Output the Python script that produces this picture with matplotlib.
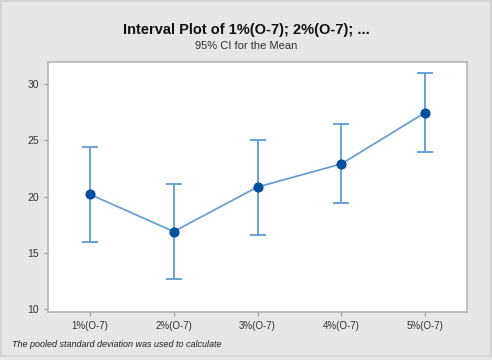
"""
Interval plot of the mean with 95% confidence intervals, Minitab style.
"""

import matplotlib
matplotlib.use("Agg")
import matplotlib.pyplot as plt
from matplotlib.patches import Rectangle

plt.rcParams["font.family"] = ["Liberation Sans", "DejaVu Sans"]

categories = ["1%(O-7)", "2%(O-7)", "3%(O-7)", "4%(O-7)", "5%(O-7)"]
means = [20.2, 16.9, 20.85, 22.9, 27.45]
ci_low = [16.0, 12.7, 16.6, 19.4, 24.0]
ci_high = [24.4, 21.1, 25.05, 26.4, 30.95]
yticks = [10, 15, 20, 25, 30]

fig = plt.figure(figsize=(4.92, 3.6), dpi=100)
fig.patch.set_facecolor("#e6e6e6")
fig.patches.append(Rectangle((0.003, 0.012), 0.994, 0.984, transform=fig.transFigure,
                             fill=False, edgecolor="#d0d0d0", linewidth=1.2))

ax = fig.add_axes([0.0976, 0.1333, 0.8516, 0.6947])
ax.set_facecolor("white")

x = list(range(len(categories)))
yerr = [[m - lo for m, lo in zip(means, ci_low)],
        [hi - m for m, hi in zip(means, ci_high)]]

ax.errorbar(x, means, yerr=yerr, fmt="none", ecolor="#5b9bd5",
            elinewidth=1.3, capsize=6, capthick=1.3, zorder=2)
ax.plot(x, means, color="#6a9fd5", linewidth=1.3, zorder=3)
ax.plot(x, means, "o", color="#0050a0", markersize=6.3, zorder=4)

ax.set_xlim(-0.5, 4.5)
ax.set_ylim(9.76, 31.95)
ax.set_xticks(x)
ax.set_xticklabels(categories, fontsize=7, color="#333333")
ax.set_yticks(yticks)
ax.set_yticklabels([str(t) for t in yticks], fontsize=7.5, color="#333333")
ax.tick_params(length=3, color="#999999", width=0.8)
for s in ax.spines.values():
    s.set_color("#b5b5b5")
    s.set_linewidth(1.2)

fig.text(0.5, 0.917, "Interval Plot of 1%(O-7); 2%(O-7); ...", ha="center", va="center",
         fontsize=10.5, fontweight="bold", color="#111111")
fig.text(0.5, 0.872, "95% CI for the Mean", ha="center", va="center",
         fontsize=8, color="#333333")
fig.text(0.024, 0.044, "The pooled standard deviation was used to calculate",
         ha="left", va="center", fontsize=6.5, style="italic", color="#222222")

fig.savefig("out.png", dpi=100, facecolor=fig.get_facecolor())
